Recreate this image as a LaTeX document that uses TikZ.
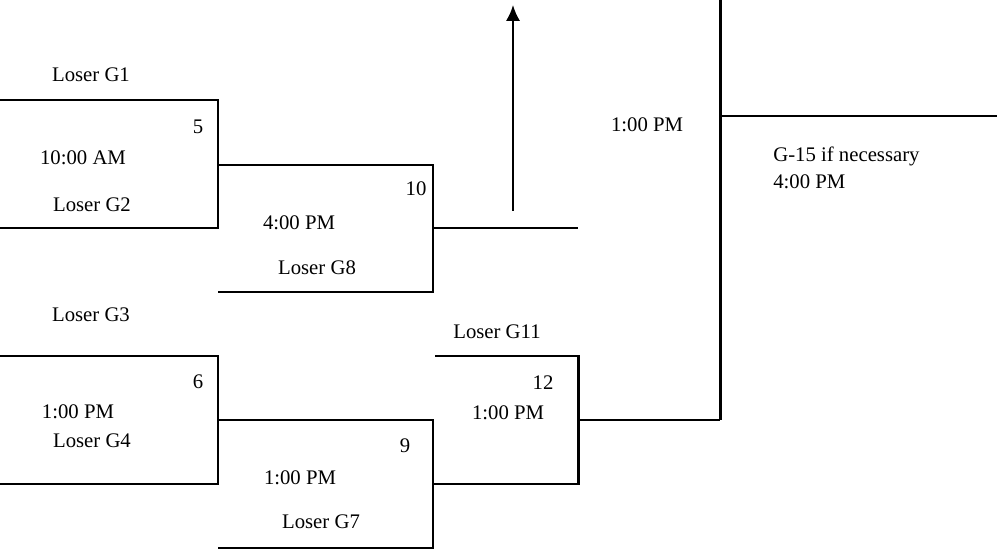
\documentclass[tikz,border=0pt]{standalone}
\usepackage{fontspec}
\setmainfont{Liberation Serif}
\usetikzlibrary{arrows.meta}
\tikzset{epais/.style={line width=1.7pt}}
% a game: top line, right side, bottom line
\newcommand{\game}[4]{\draw[epais] (#1,#2) -- (#3,#2) -- (#3,#4) -- (#1,#4)}
% the line that leaves a game
\newcommand{\sortie}[3]{\draw[epais] (#1,#2) -- (#3,#2)}

\begin{document}
\begin{tikzpicture}[x=0.02cm, y=-0.02cm,
	txt/.style={inner sep=0pt, font=\fontsize{11.8}{14}\selectfont}]
	\useasboundingbox (0,0) rectangle (997,550);
%Game 5
	\game{0}{100}{218}{228};
	\sortie{218}{165}{433};
	\node[txt] (l1) at (91,75) {Loser G1};
	\node[txt] (g5) at (198,127) {5};
	\node[txt] (t5) at (83,158) {10:00 AM};
	\node[txt] (l2) at (92,205) {Loser G2};
%Game 10
	\game{218}{165}{433}{292};
	\sortie{433}{228}{578};
	\node[txt] (g10) at (416,189) {10};
	\node[txt] (t10) at (299,223) {4:00 PM};
	\node[txt] (l8) at (317,268) {Loser G8};
%winner goes up
	\coordinate (w10) at (513,211);
	\coordinate (up) at (513,5);
	\draw[line width=1.2pt, -{Latex[length=9pt,width=8pt]}] (w10) -- (up);
%Game 6
	\game{0}{356}{218}{484};
	\sortie{218}{420}{433};
	\node[txt] (l3) at (91,315) {Loser G3};
	\node[txt] (g6) at (198,382) {6};
	\node[txt] (t6) at (78,412) {1:00 PM};
	\node[txt] (l4) at (92,441) {Loser G4};
%Game 9
	\game{218}{420}{433}{548};
	\sortie{433}{484}{578};
	\node[txt] (g9) at (405,446) {9};
	\node[txt] (t9) at (300,478) {1:00 PM};
	\node[txt] (l7) at (321,522) {Loser G7};
%Game 12
	\game{435}{356}{578}{484};
	\sortie{578}{420}{720};
	\node[txt] (l11) at (497,332) {Loser G11};
	\node[txt] (g12) at (543,383) {12};
	\node[txt] (t12) at (508,413) {1:00 PM};
%Final
	\draw[epais] (720,0) -- (720,420);
	\sortie{720}{116}{997};
	\node[txt] (tf) at (647,125) {1:00 PM};
	\node[txt, anchor=west] (g15) at (773,156) {G-15 if necessary};
	\node[txt, anchor=west] (t15) at (773,182) {4:00 PM};
\end{tikzpicture}
\end{document}
